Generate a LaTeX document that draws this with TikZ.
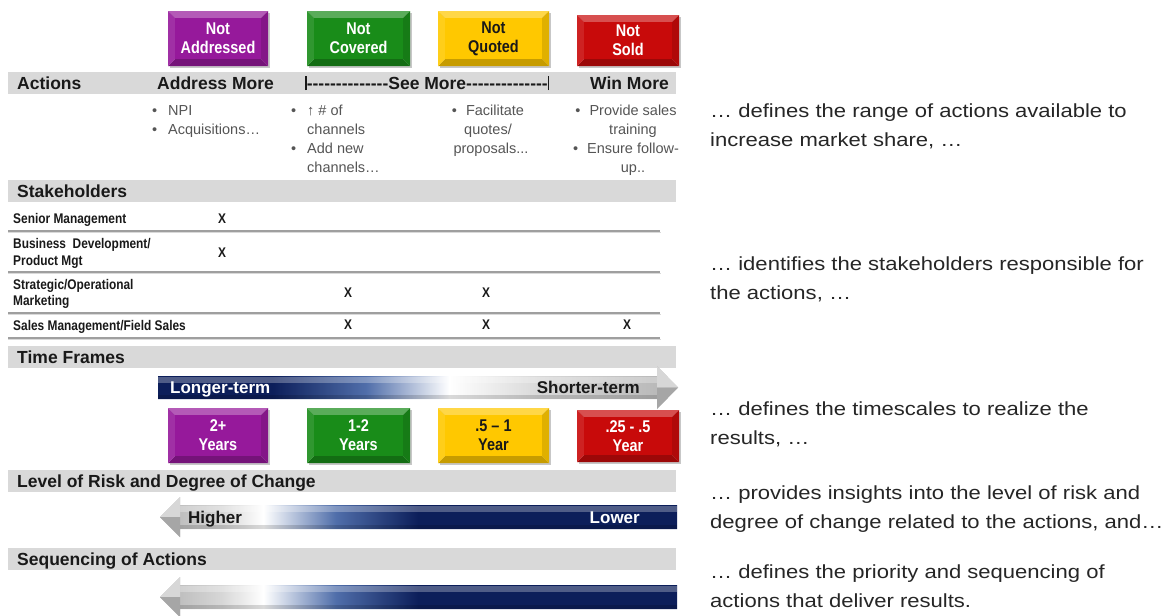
\documentclass[tikz,border=0pt]{standalone}
\usepackage{fontspec}
\setmainfont{Liberation Sans}
\newfontfamily\narrowfont[FakeStretch=0.85]{Liberation Sans}
\newfontfamily\widefont[FakeStretch=1.16]{Liberation Sans}

\definecolor{navy}{RGB}{12,30,90}
\definecolor{navymid}{RGB}{80,110,170}
\definecolor{silver}{RGB}{180,180,180}
\definecolor{silverlt}{RGB}{215,215,215}
\definecolor{barg}{RGB}{217,217,217}
\definecolor{notegray}{RGB}{38,38,38}
\definecolor{bulgray}{RGB}{85,85,85}
\definecolor{cpurple}{RGB}{150,25,155}
\definecolor{cgreen}{RGB}{25,140,25}
\definecolor{cyellow}{RGB}{255,200,0}
\definecolor{cred}{RGB}{200,10,10}
\definecolor{darktext}{RGB}{25,25,25}

% left-to-right fades for the long arrows (stops between 25bp and 75bp span the path)
\pgfdeclarehorizontalshading{timefade}{100bp}{color(0bp)=(navy); color(25bp)=(navy);
  color(36bp)=(navy); color(45bp)=(navymid); color(53bp)=(white); color(62bp)=(silverlt);
  color(75bp)=(silver); color(100bp)=(silver)}
\pgfdeclarehorizontalshading{riskfade}{100bp}{color(0bp)=(silver); color(25bp)=(silver);
  color(31bp)=(silverlt); color(35bp)=(white); color(42bp)=(navymid); color(50bp)=(navy);
  color(75bp)=(navy); color(100bp)=(navy)}

% bevelled coloured tile: name, x1, y1, x2, y2, colour, text colour, text
\newcommand\bevelbox[8]{%
  \fill[black!22] (#2+2,#3+2) rectangle (#4+2,#5+2);
  \fill[#6!72!white] (#2,#3) -- (#4,#3) -- (#4-7,#3+7) -- (#2+7,#3+7) -- cycle;
  \fill[#6!78!black] (#2,#5) -- (#4,#5) -- (#4-7,#5-7) -- (#2+7,#5-7) -- cycle;
  \fill[#6!90!white] (#2,#3) -- (#2+7,#3+7) -- (#2+7,#5-7) -- (#2,#5) -- cycle;
  \fill[#6!88!black] (#4,#3) -- (#4-7,#3+7) -- (#4-7,#5-7) -- (#4,#5) -- cycle;
  \fill[#6] (#2+7,#3+7) rectangle (#4-7,#5-7);
  \node[boxlbl, text=#7] (#1) at ({(#2+#4)/2},{(#3+#5)/2}) {#8};
}
\newcommand\hy{\hbox{-}}

\begin{document}
\begin{tikzpicture}[x=1pt,y=-1pt,
  hbar/.style={fill=barg, draw=none, anchor=north west, minimum width=668pt,
    minimum height=22pt, inner sep=0},
  htext/.style={anchor=base west, font=\fontsize{17.5}{20}\selectfont\bfseries,
    text=darktext, inner sep=0},
  boxlbl/.style={font=\narrowfont\fontsize{17}{19}\selectfont\bfseries, align=center,
    inner sep=0},
  bul/.style={font=\fontsize{14.5}{19}\selectfont, text=bulgray, inner sep=0},
  stk/.style={anchor=base west, font=\narrowfont\fontsize{14}{15}\selectfont\bfseries,
    text=darktext, inner sep=0},
  xmk/.style={font=\narrowfont\fontsize{14}{15}\selectfont\bfseries, text=darktext,
    inner sep=0},
  note/.style={anchor=base west, font=\widefont\fontsize{19}{29}\selectfont,
    text=notegray, inner sep=0},
  arrlbl/.style={font=\fontsize{17}{20}\selectfont\bfseries, inner sep=0},
  rowline/.style={draw=gray!75, line width=1.4pt},
  rowshadow/.style={draw=gray!30, line width=1pt}]

\useasboundingbox (0,0) rectangle (1171,616);
\fill[white] (0,0) rectangle (1171,616);

% ---------- outcome tiles ----------
\bevelbox{tNA}{168}{11}{268}{66}{cpurple}{white}{Not\\Addressed}
\bevelbox{tNC}{307}{11}{410}{66}{cgreen}{white}{Not\\Covered}
\bevelbox{tNQ}{438}{11}{549}{66}{cyellow}{darktext}{Not\\Quoted}
\bevelbox{tNS}{577}{15}{679}{66}{cred}{white}{Not\\Sold}

% ---------- Actions ----------
\node[hbar] (barAct) at (8,72) {};
\node[htext] (hAct) at (17,89) {Actions};
\node[htext] (hAddr) at (157,89) {Address More};
\node[htext] (hSee) at (305,89) {\rule[-1pt]{1.6pt}{14pt}\foreach\k in {1,...,14}{\hy}See More\foreach\k in {1,...,14}{\hy}\rule[-1pt]{1.6pt}{14pt}};
\node[htext] (hWin) at (590,89) {Win More};

\node[bul, anchor=base west] (b11) at (152,115) {\makebox[16pt][l]{•}NPI};
\node[bul, anchor=base west] (b12) at (152,134) {\makebox[16pt][l]{•}Acquisitions…};
\node[bul, anchor=base west] (b21) at (291,115) {\makebox[16pt][l]{•}↑ \# of};
\node[bul, anchor=base west] (b22) at (307,134) {channels};
\node[bul, anchor=base west] (b23) at (291,153) {\makebox[16pt][l]{•}Add new};
\node[bul, anchor=base west] (b24) at (307,172) {channels…};
\node[bul, anchor=base] (b31) at (488,115) {•\hspace{9pt}Facilitate};
\node[bul, anchor=base] (b32) at (488,134) {quotes/};
\node[bul, anchor=base] (b33) at (491,153) {proposals...};
\node[bul, anchor=base] (b41) at (626,115) {•\hspace{9pt}Provide sales};
\node[bul, anchor=base] (b42) at (633,134) {training};
\node[bul, anchor=base] (b43) at (626,153) {•\hspace{9pt}Ensure follow-};
\node[bul, anchor=base] (b44) at (633,172) {up..};

% ---------- Stakeholders ----------
\node[hbar] (barStk) at (8,180) {};
\node[htext] (hStk) at (17,197) {Stakeholders};

\node[stk] (s1) at (13,223) {Senior Management};
\node[stk] (s2a) at (13,248) {Business\ \ Development/};
\node[stk] (s2b) at (13,265) {Product Mgt};
\node[stk] (s3a) at (13,289) {Strategic/Operational};
\node[stk] (s3b) at (13,305) {Marketing};
\node[stk] (s4) at (13,330) {Sales Management/Field Sales};

\node[xmk] (x11) at (222,219) {X};
\node[xmk] (x21) at (222,253) {X};
\node[xmk] (x32) at (348,293) {X};
\node[xmk] (x33) at (486,293) {X};
\node[xmk] (x42) at (348,325) {X};
\node[xmk] (x43) at (486,325) {X};
\node[xmk] (x44) at (627,325) {X};

\foreach \yy in {231,272,313,338}{
  \draw[rowshadow] (8,\yy+1.6) -- (661,\yy+1.6);
  \draw[rowline] (8,\yy) -- (660,\yy);
}

% ---------- Time Frames ----------
\node[hbar] (barTime) at (8,346) {};
\node[htext] (hTime) at (17,363) {Time Frames};

\shade[shading=timefade] (158,376) -- (657,376) -- (657,366) -- (678,387.5)
  -- (657,409) -- (657,399) -- (158,399) -- cycle;
\fill[white, opacity=0.28] (158,377) rectangle (657,383);
\fill[black, opacity=0.15] (158,395) rectangle (657,399);
\fill[silverlt] (657,366) -- (678,387.5) -- (657,387.5) -- cycle;
\fill[gray!70] (657,387.5) -- (678,387.5) -- (657,409) -- cycle;
\node[arrlbl, anchor=base west, text=white] (lLong) at (170,393) {Longer-term};
\node[arrlbl, anchor=base east, text=darktext] (lShort) at (640,393) {Shorter-term};

\bevelbox{y2p}{168}{408}{268}{463}{cpurple}{white}{2+\\Years}
\bevelbox{y12}{307}{408}{410}{463}{cgreen}{white}{1-2\\Years}
\bevelbox{y51}{438}{408}{549}{463}{cyellow}{darktext}{.5 – 1\\Year}
\bevelbox{y255}{577}{410}{679}{462}{cred}{white}{.25 - .5\\Year}

% ---------- Risk ----------
\node[hbar] (barRisk) at (8,470) {};
\node[htext] (hRisk) at (17,487) {Level of Risk and Degree of Change};

\shade[shading=riskfade] (160,517) -- (180,497) -- (180,505) -- (677,505) -- (677,529)
  -- (180,529) -- (180,537) -- cycle;
\fill[white, opacity=0.28] (180,506) rectangle (677,512);
\fill[black, opacity=0.15] (180,525) rectangle (677,529);
\fill[silverlt] (160,517) -- (180,497) -- (180,517) -- cycle;
\fill[gray!70] (160,517) -- (180,517) -- (180,537) -- cycle;
\node[arrlbl, anchor=base west, text=darktext] (lHigh) at (188,523) {Higher};
\node[arrlbl, anchor=base east, text=white] (lLow) at (640,523) {Lower};

% ---------- Sequencing ----------
\node[hbar] (barSeq) at (8,548) {};
\node[htext] (hSeq) at (17,565) {Sequencing of Actions};

\shade[shading=riskfade] (160,597) -- (180,577) -- (180,585) -- (677,585) -- (677,609)
  -- (180,609) -- (180,617) -- cycle;
\fill[white, opacity=0.28] (180,586) rectangle (677,592);
\fill[black, opacity=0.15] (180,605) rectangle (677,609);
\fill[silverlt] (160,597) -- (180,577) -- (180,597) -- cycle;
\fill[gray!70] (160,597) -- (180,597) -- (180,617) -- cycle;

% ---------- explanatory notes ----------
\node[note] (n11) at (710,117) {… defines the range of actions available to};
\node[note] (n12) at (710,146.5) {increase market share, …};
\node[note] (n21) at (710,270) {… identifies the stakeholders responsible for};
\node[note] (n22) at (710,299) {the actions, …};
\node[note] (n31) at (710,415) {… defines the timescales to realize the};
\node[note] (n32) at (710,444) {results, …};
\node[note] (n41) at (710,499) {… provides insights into the level of risk and};
\node[note] (n42) at (710,528) {degree of change related to the actions, and…};
\node[note] (n51) at (710,578) {… defines the priority and sequencing of};
\node[note] (n52) at (710,607) {actions that deliver results.};
\end{tikzpicture}
\end{document}
